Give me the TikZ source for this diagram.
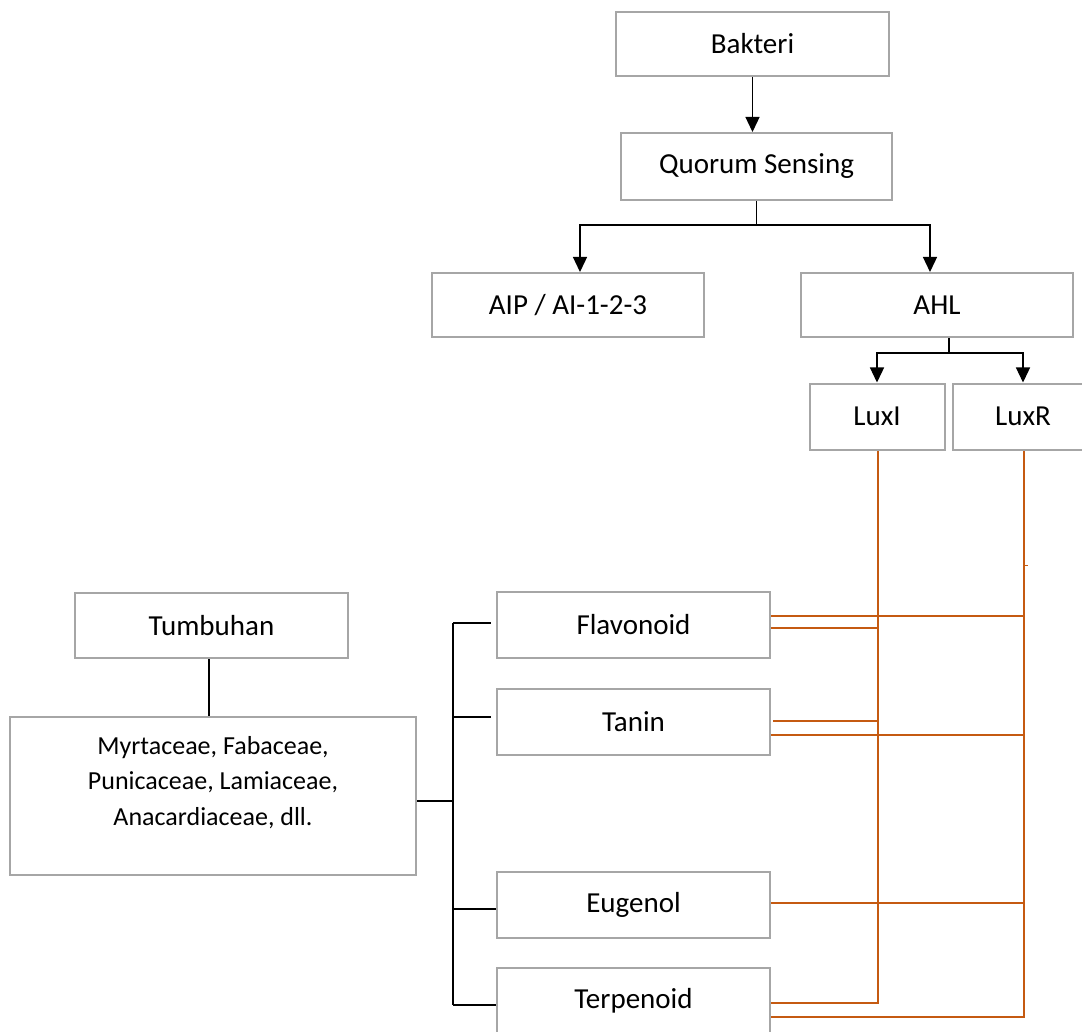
\documentclass[tikz,border=0pt]{standalone}
\usepackage{fontspec}
\setmainfont{Carlito}
\usetikzlibrary{arrows.meta,calc}
\definecolor{boxgray}{HTML}{A6A6A6}
\definecolor{orng}{HTML}{C55A11}
\begin{document}
\begin{tikzpicture}[x=1pt,y=-1pt,
  box/.style={draw=boxgray,line width=2pt,fill=white,inner sep=0pt,font=\fontsize{29}{34}\selectfont},
  conn/.style={draw=black,line width=1.3pt},
  arr/.style={conn,-{Triangle[length=15pt,width=14pt]}},
  orl/.style={draw=orng,line width=1.6pt}]
\clip (0,0) rectangle (1082,1032);
\fill[white] (0,0) rectangle (1082,1032);
% top nodes
\node[box,minimum width=273pt,minimum height=64pt] (bak) at (752.5,44) {Bakteri};
\node[box,minimum width=271pt,minimum height=67pt] (qs) at (756.5,166.5) {Quorum Sensing};
\node[box,minimum width=272pt,minimum height=64pt] (aip) at (568,305) {AIP / AI-1-2-3};
\node[box,minimum width=272pt,minimum height=64pt] (ahl) at (937,305) {AHL};
\node[box,minimum width=135pt,minimum height=66pt] (luxi) at (877,416.5) {LuxI};
\node[box,minimum width=140pt,minimum height=66pt] (luxr) at (1023,416.5) {LuxR};
% plant side
\node[box,minimum width=273pt,minimum height=65pt] (tum) at (211.5,625.5) {Tumbuhan};
\node[box,minimum width=406pt,minimum height=158pt,font=\fontsize{26}{35.5}\selectfont] (fam) at (213,796) {\smash{\raisebox{7pt}{\begin{tabular}{@{}c@{}}Myrtaceae, Fabaceae,\\Punicaceae, Lamiaceae,\\Anacardiaceae, dll.\end{tabular}}}};
\node[box,minimum width=273pt,minimum height=66pt] (flav) at (633.5,625) {Flavonoid};
\node[box,minimum width=273pt,minimum height=66pt] (tan) at (633.5,722) {Tanin};
\node[box,minimum width=273pt,minimum height=66pt] (eug) at (633.5,905) {Eugenol};
\node[box,minimum width=273pt,minimum height=66pt] (ter) at (633.5,1001) {Terpenoid};
% connectors (black)
\draw[arr] (bak.south) -- (bak.south |- qs.north);
\coordinate (qsj) at (756.5,225);
\coordinate (ahlj) at (949,353);
\draw[conn] (qs.south) -- (qsj);
\draw[arr] (qsj) -| ([xshift=12pt]aip.north);
\draw[arr] (qsj) -| ([xshift=-7pt]ahl.north);
\draw[conn] (ahl.south -| ahlj) -- (ahlj);
\draw[arr] (ahlj) -| (luxi.north);
\draw[arr] (ahlj) -| (luxr.north);
\coordinate (tx) at (209,0);
\draw[conn] (tum.south -| tx) -- (fam.north -| tx);
\coordinate (bj) at (453,801);
\draw[conn] ([yshift=-5pt]fam.east) -- (bj);
\coordinate (btop) at (453,623);
\coordinate (bbot) at (453,1005);
\draw[conn] (btop) -- (bbot);
\draw[conn] (btop) -- ([xshift=-5pt,yshift=2pt]flav.west);
\draw[conn] (453,717) -- ([xshift=-5pt,yshift=5pt]tan.west);
\draw[conn] (453,909) -- ([yshift=-4pt]eug.west);
\draw[conn] (bbot) -- ([yshift=-4pt]ter.west);
% orange connectors
\coordinate (vI) at (878,451);
\coordinate (vR) at (1024,451);
\draw[orl] (vI) |- ([yshift=-2pt]ter.east);
\draw[orl] (vR) |- ([yshift=-16pt]ter.east);
\draw[orl] ([yshift=9pt]flav.east) -- ([yshift=9pt]flav.east -| vR);
\draw[orl] ([yshift=-3pt]flav.east) -- ([yshift=-3pt]flav.east -| vI);
\draw[orl] ([xshift=2pt,yshift=1pt]tan.east) -- ([yshift=1pt]tan.east -| vI);
\draw[orl] ([yshift=-13pt]tan.east) -- ([yshift=-13pt]tan.east -| vR);
\draw[orl] ([yshift=2pt]eug.east) -- ([yshift=2pt]eug.east -| vR);
\coordinate (tk) at (1028,565);
\draw[orl,line width=1pt] (tk -| vR) -- (tk);
\end{tikzpicture}
\end{document}
